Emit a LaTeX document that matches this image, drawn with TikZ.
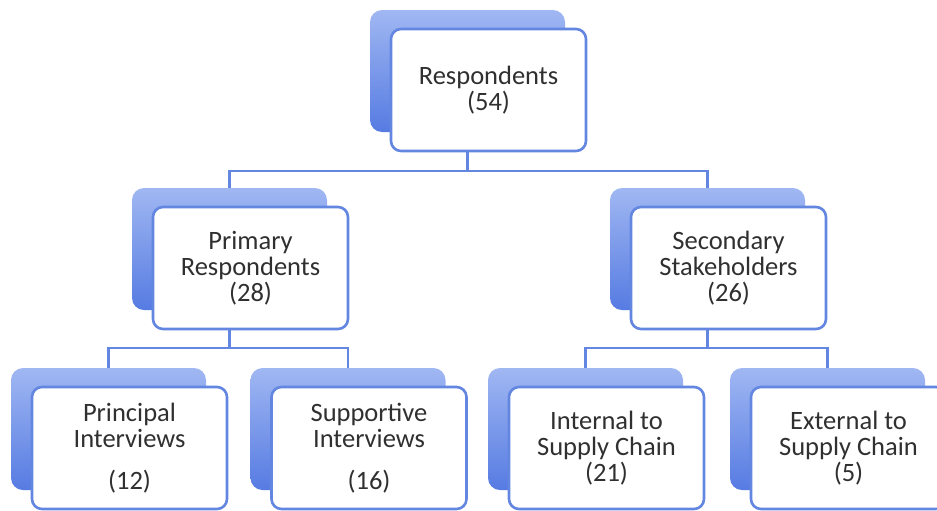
\documentclass[tikz,border=0pt]{standalone}
\usepackage{fontspec}
\setmainfont{Carlito}
\usetikzlibrary{calc}
\definecolor{lb}{HTML}{6386E0}
\definecolor{bt}{HTML}{A0B7F2}
\definecolor{bb}{HTML}{567BE2}
\definecolor{tx}{HTML}{303030}

\begin{document}
\begin{tikzpicture}[x=0.5pt,y=-0.5pt,
  bk/.style={top color=bt,bottom color=bb,rounded corners=6pt,minimum width=97.5pt,minimum height=61pt,inner sep=0pt},
  cd/.style={draw=lb,fill=white,line width=1.3pt,rounded corners=5pt,minimum width=97.5pt,minimum height=61pt,align=center,inner sep=0pt,text=tx,font=\fontsize{13.25pt}{13pt}\selectfont},
  ln/.style={draw=lb,line width=1.3pt}]
\useasboundingbox (0,0) rectangle (937,510);
\clip (0,0) rectangle (937,510);
% shadow cards
\node[bk] (resp-b) at (467.5,71) {};
\node[bk] (prim-b) at (229.5,249) {};
\node[bk] (sec-b) at (707.5,249) {};
\node[bk] (princ-b) at (108.5,429) {};
\node[bk] (supp-b) at (348,429) {};
\node[bk] (intl-b) at (585.5,429) {};
\node[bk] (extl-b) at (827.5,429) {};
% front cards
\node[cd] (resp) at ($(resp-b)+(21,19)$) {Respondents\\(54)};
\node[cd] (prim) at ($(prim-b)+(21,19)$) {Primary\\Respondents\\(28)};
\node[cd] (sec) at ($(sec-b)+(21,19)$) {Secondary\\Stakeholders\\(26)};
\node[cd] (princ) at ($(princ-b)+(21,19)$) {Principal\\Interviews\\[8pt](12)};
\node[cd] (supp) at ($(supp-b)+(21,19)$) {Supportive\\Interviews\\[8pt](16)};
\node[cd] (intl) at ($(intl-b)+(21,19)$) {Internal to\\Supply Chain\\(21)};
\node[cd] (extl) at ($(extl-b)+(21,19)$) {External to\\Supply Chain\\(5)};
% bus lines
\coordinate (bus1) at (0,171);
\coordinate (bus2) at (0,348);
\draw[ln] (resp.south -| resp-b) -- (resp-b |- bus1) -| (prim-b.north);
\draw[ln] (resp-b |- bus1) -| (sec-b.north);
\draw[ln] (prim.south -| prim-b) -- (prim-b |- bus2) -| (princ-b.north);
\draw[ln] (prim-b |- bus2) -| (supp-b.north);
\draw[ln] (sec.south -| sec-b) -- (sec-b |- bus2) -| (intl-b.north);
\draw[ln] (sec-b |- bus2) -| (extl-b.north);
\end{tikzpicture}
\end{document}
